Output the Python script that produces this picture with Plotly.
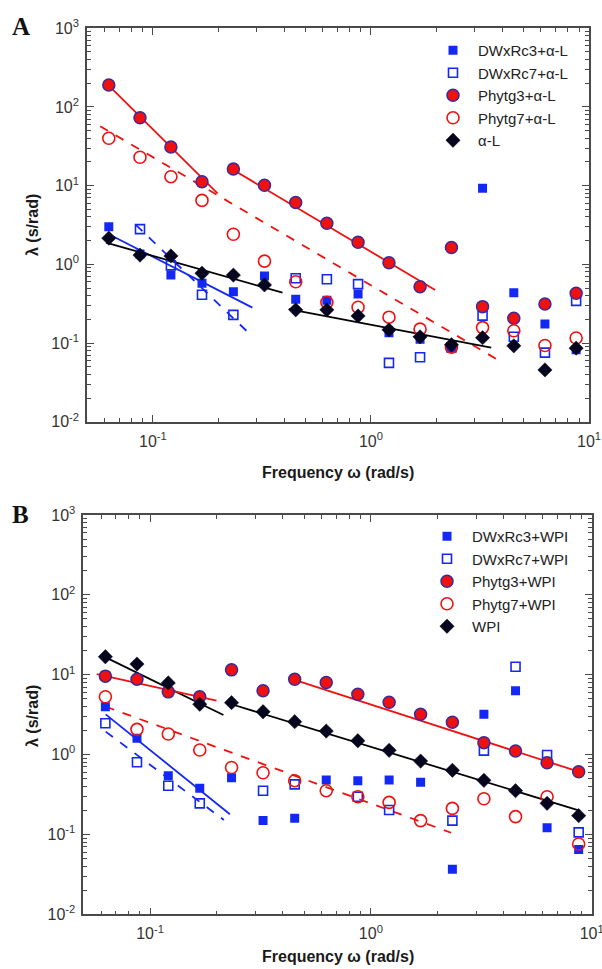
import plotly.graph_objects as go

# ---------------- data ----------------
freq = [0.0628, 0.0873, 0.121, 0.168, 0.234, 0.325, 0.452, 0.628,
        0.873, 1.21, 1.68, 2.34, 3.25, 4.52, 6.28, 8.73]

# Panel A (alpha-lactalbumin)
a_dw3 = [3.0, 1.35, 0.73, 0.575, 0.45, 0.71, 0.36, 0.35, 0.42, 0.135, 0.112, 0.09, 9.3, 0.436, 0.175, 0.082]
a_dw7 = [None, 2.8, 0.97, 0.41, 0.228, None, 0.665, 0.645, 0.56, 0.056, 0.066, 0.088, 0.223, 0.12, 0.0755, 0.343]
a_ph3 = [190, 73, 31, 11.2, 16.3, 10.1, 6.1, 3.33, 1.91, 1.05, 0.52, 1.64, 0.29, 0.206, 0.314, 0.43]
a_ph7 = [40, 23, 13, 6.5, 2.41, 1.10, 0.60, 0.33, 0.285, 0.213, 0.15, 0.0885, 0.157, 0.143, 0.093, 0.116]
a_al = [2.15, 1.31, 1.28, 0.77, 0.73, 0.547, 0.264, 0.264, 0.221, 0.147, 0.12, 0.095, 0.117, 0.092, 0.0455, 0.086]

# Panel B (WPI)
b_dw3 = [3.98, 1.6, 0.544, 0.378, 0.514, 0.149, 0.159, 0.48, 0.471, 0.48, 0.45, 0.0366, 3.19, 6.3, 0.121, 0.065]
b_dw7 = [2.47, 0.8, 0.407, 0.245, None, 0.353, 0.423, None, 0.297, 0.202, None, 0.149, 1.12, 12.6, 0.99, 0.106]
b_ph3 = [9.6, 8.8, 6.1, 5.3, 11.5, 6.3, 8.75, 8.0, 5.7, 4.52, 3.19, 2.54, 1.41, 1.11, 0.79, 0.61]
b_ph7 = [5.3, 2.07, 1.81, 1.14, 0.69, 0.593, 0.471, 0.353, 0.297, 0.252, 0.149, 0.212, 0.28, 0.167, 0.297, 0.076]
b_wpi = [16.8, 13.6, 7.9, 4.27, 4.47, 3.44, 2.58, 1.97, 1.49, 1.13, 0.83, 0.636, 0.476, 0.353, 0.245, 0.172]

# power-law fit segments (x endpoints, y endpoints)
fitA_ph3a_x, fitA_ph3a_y = [0.0625, 0.198], [190, 8.0]
fitA_ph3b_x, fitA_ph3b_y = [0.23, 1.97], [16.3, 0.473]
fitA_ph7_x, fitA_ph7_y = [0.0573, 3.78], [57, 0.0622]
fitA_dw3_x, fitA_dw3_y = [0.0625, 0.286], [2.43, 0.282]
fitA_dw7_x, fitA_dw7_y = [0.0836, 0.269], [3.17, 0.1426]
fitA_al1_x, fitA_al1_y = [0.061, 0.393], [1.89, 0.436]
fitA_al2_x, fitA_al2_y = [0.42, 3.56], [0.269, 0.0875]

fitB_wpi1_x, fitB_wpi1_y = [0.063, 0.215], [16.5, 3.13]
fitB_wpi2_x, fitB_wpi2_y = [0.232, 8.73], [4.3, 0.20]
fitB_ph3a_x, fitB_ph3a_y = [0.0574, 0.2], [10.2, 4.73]
fitB_ph3b_x, fitB_ph3b_y = [0.43, 8.73], [9.0, 0.61]
fitB_ph7_x, fitB_ph7_y = [0.063, 2.31], [3.98, 0.105]
fitB_dw3_x, fitB_dw3_y = [0.063, 0.23], [3.19, 0.179]
fitB_dw7_x, fitB_dw7_y = [0.063, 0.216], [1.94, 0.152]

names_A = ["DWxRc3+α-L", "DWxRc7+α-L", "Phytg3+α-L", "Phytg7+α-L", "α-L"]
names_B = ["DWxRc3+WPI", "DWxRc7+WPI", "Phytg3+WPI", "Phytg7+WPI", "WPI"]

y_tickvals = [0.01, 0.1, 1, 10, 100, 1000]
y_ticktext = ["10<sup>-2</sup>", "10<sup>-1</sup>", "10<sup>0</sup>", "10<sup>1</sup>", "10<sup>2</sup>", "10<sup>3</sup>"]
x_tickvals = [0.1, 1, 10]
x_ticktext = ["10<sup>-1</sup>", "10<sup>0</sup>", "10<sup>1</sup>"]

# ---------------- styles ----------------
BLUE = "#1428f5"
RED = "#f01010"
EDGE = "#3a2a9a"
DARK = "#05051e"
FONT = "Liberation Sans, Arial, sans-serif"

W, H = 602, 969

fig = go.Figure()


def add_line(x, y, color, dash, xa, ya):
    fig.add_trace(go.Scatter(x=x, y=y, mode="lines", xaxis=xa, yaxis=ya,
                             line=dict(color=color, width=1.8, dash=dash),
                             showlegend=False, hoverinfo="skip"))


def add_markers(y, name, symbol, size, fill, line_color, lw, xa, ya, legend, group):
    fig.add_trace(go.Scatter(x=freq, y=y, mode="markers", name=name, xaxis=xa, yaxis=ya,
                             legend=legend, legendgroup=group,
                             marker=dict(symbol=symbol, size=size, color=fill,
                                         line=dict(color=line_color, width=lw))))


# Panel A lines
add_line(fitA_ph3a_x, fitA_ph3a_y, RED, "solid", "x", "y")
add_line(fitA_ph3b_x, fitA_ph3b_y, RED, "solid", "x", "y")
add_line(fitA_ph7_x, fitA_ph7_y, RED, "dash", "x", "y")
add_line(fitA_dw3_x, fitA_dw3_y, BLUE, "solid", "x", "y")
add_line(fitA_dw7_x, fitA_dw7_y, BLUE, "dash", "x", "y")
add_line(fitA_al1_x, fitA_al1_y, "black", "solid", "x", "y")
add_line(fitA_al2_x, fitA_al2_y, "black", "solid", "x", "y")

# Panel A markers
add_markers(a_dw3, names_A[0], "square", 9, BLUE, BLUE, 0, "x", "y", "legend", "a1")
add_markers(a_dw7, names_A[1], "square-open", 9, BLUE, BLUE, 1.6, "x", "y", "legend", "a2")
add_markers(a_ph3, names_A[2], "circle", 12, RED, EDGE, 1.5, "x", "y", "legend", "a3")
add_markers(a_ph7, names_A[3], "circle-open", 12, RED, RED, 1.6, "x", "y", "legend", "a4")
add_markers(a_al, names_A[4], "diamond", 11, DARK, DARK, 0.5, "x", "y", "legend", "a5")

# Panel B lines
add_line(fitB_wpi1_x, fitB_wpi1_y, "black", "solid", "x2", "y2")
add_line(fitB_wpi2_x, fitB_wpi2_y, "black", "solid", "x2", "y2")
add_line(fitB_ph3a_x, fitB_ph3a_y, RED, "solid", "x2", "y2")
add_line(fitB_ph3b_x, fitB_ph3b_y, RED, "solid", "x2", "y2")
add_line(fitB_ph7_x, fitB_ph7_y, RED, "dash", "x2", "y2")
add_line(fitB_dw3_x, fitB_dw3_y, BLUE, "solid", "x2", "y2")
add_line(fitB_dw7_x, fitB_dw7_y, BLUE, "dash", "x2", "y2")

# Panel B markers
add_markers(b_dw3, names_B[0], "square", 9, BLUE, BLUE, 0, "x2", "y2", "legend2", "b1")
add_markers(b_dw7, names_B[1], "square-open", 9, BLUE, BLUE, 1.6, "x2", "y2", "legend2", "b2")
add_markers(b_ph3, names_B[2], "circle", 12, RED, EDGE, 1.5, "x2", "y2", "legend2", "b3")
add_markers(b_ph7, names_B[3], "circle-open", 12, RED, RED, 1.6, "x2", "y2", "legend2", "b4")
add_markers(b_wpi, names_B[4], "diamond", 11, DARK, DARK, 0.5, "x2", "y2", "legend2", "b5")

AX_COLOR = "#4a4a4a"
tickfont = dict(family=FONT, size=16, color="#333333")


def xaxis_cfg(domain, anchor):
    return dict(type="log", range=[-1.302, 1.0], domain=domain, anchor=anchor,
                tickvals=x_tickvals, ticktext=x_ticktext, ticks="inside", ticklen=7,
                tickwidth=1.3, tickcolor=AX_COLOR, showline=True, linecolor=AX_COLOR,
                linewidth=1.6, mirror="ticks", showgrid=False, zeroline=False,
                tickfont=tickfont, ticklabelstandoff=4, automargin=False,
                ticklabeloverflow="allow",
                minor=dict(dtick="D1", ticks="inside", ticklen=4, tickwidth=1,
                           tickcolor=AX_COLOR, showgrid=False))


def yaxis_cfg(domain, anchor):
    return dict(type="log", range=[-2, 3], domain=domain, anchor=anchor,
                tickvals=y_tickvals, ticktext=y_ticktext, ticks="inside", ticklen=7,
                tickwidth=1.3, tickcolor=AX_COLOR, showline=True, linecolor=AX_COLOR,
                linewidth=1.6, mirror="ticks", showgrid=False, zeroline=False,
                tickfont=tickfont, ticklabelstandoff=3, automargin=False,
                ticklabeloverflow="allow",
                minor=dict(dtick="D1", ticks="inside", ticklen=4, tickwidth=1,
                           tickcolor=AX_COLOR, showgrid=False))


def px_x(p):
    return p / W


def px_y(p):
    return 1 - p / H


legend_font = dict(family=FONT, size=15, color="#222222")

fig.update_layout(
    width=W, height=H, margin=dict(l=0, r=0, t=0, b=0, autoexpand=False),
    paper_bgcolor="white", plot_bgcolor="white",
    font=dict(family=FONT, color="#222222"),
    xaxis=xaxis_cfg([px_x(87), px_x(589)], "y"),
    yaxis=yaxis_cfg([px_y(421.7), px_y(28.3)], "x"),
    xaxis2=xaxis_cfg([px_x(83.3), px_x(591.7)], "y2"),
    yaxis2=yaxis_cfg([px_y(914.3), px_y(515)], "x2"),
    legend=dict(x=px_x(428), y=px_y(34), xanchor="left", yanchor="top",
                bgcolor="rgba(0,0,0,0)", borderwidth=0, tracegroupgap=0,
                font=legend_font, itemwidth=40),
    legend2=dict(x=px_x(422), y=px_y(520), xanchor="left", yanchor="top",
                 bgcolor="rgba(0,0,0,0)", borderwidth=0, tracegroupgap=0,
                 font=legend_font, itemwidth=40),
    showlegend=True,
)

ann_title = dict(family=FONT, size=16, color="#1a1a1a")
letter_font = dict(family="Liberation Serif, Times New Roman, serif", size=25, color="#111111")


def note(text, x, y, font, angle=0):
    fig.add_annotation(text=text, xref="paper", yref="paper", x=px_x(x), y=px_y(y),
                       xanchor="center", yanchor="middle", showarrow=False,
                       textangle=angle, font=font)


note("<b>Frequency ω (rad/s)</b>", 338, 472, ann_title)
note("<b>Frequency ω (rad/s)</b>", 338, 956, ann_title)
note("<b>λ (s/rad)</b>", 32, 225, ann_title, -90)
note("<b>λ (s/rad)</b>", 32, 716, ann_title, -90)
note("<b>A</b>", 21, 27, letter_font)
note("<b>B</b>", 20, 514, letter_font)

# remove the browser's default page margin so the 602x969 figure fills the window exactly
fig.write_html("out.html",
               config={"displayModeBar": False},
               post_script="document.body.style.margin='0';document.body.style.overflow='hidden';")
